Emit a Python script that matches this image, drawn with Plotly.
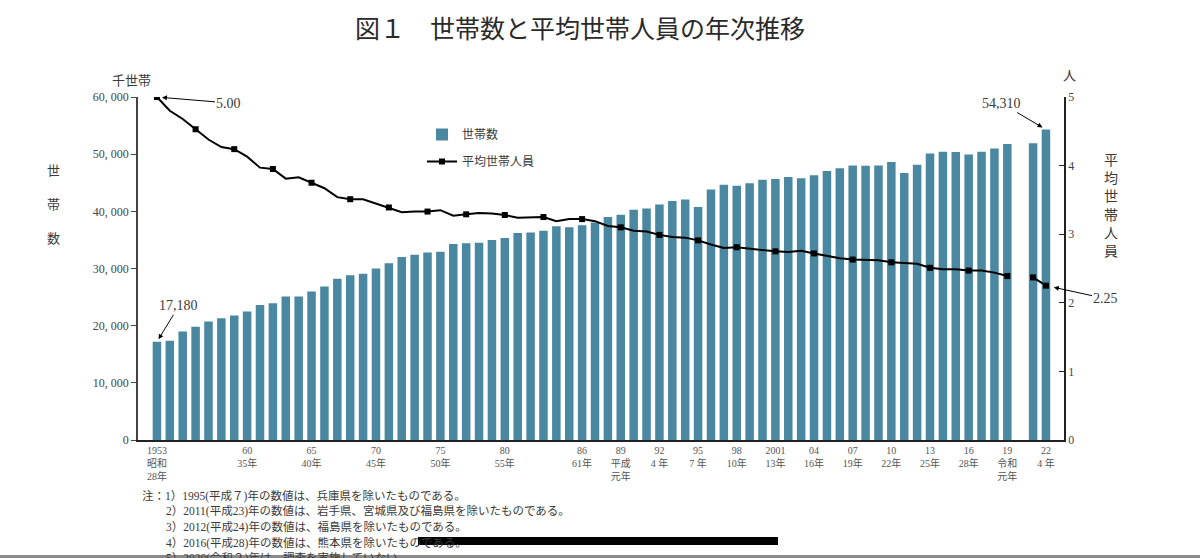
import plotly.graph_objects as go

years = list(range(1953, 2023))

households = [
    17180, 17370, 18963, 19800, 20750, 21300, 21800, 22500, 23600, 23900,   # 1953-1962
    25100, 25100, 25960, 26850, 28200, 28800, 29100, 29990, 30900, 32000,   # 1963-1972
    32400, 32800, 32950, 34300, 34400, 34500, 35000, 35338, 36200, 36300,   # 1973-1982
    36600, 37400, 37226, 37544, 38064, 39028, 39417, 40273, 40506, 41210,   # 1983-1992
    41826, 42069, 40770, 43807, 44669, 44496, 44923, 45545, 45664, 46005,   # 1993-2002
    45800, 46323, 47043, 47531, 48023, 47957, 48013, 48638, 46684, 48170,   # 2003-2012
    50112, 50431, 50361, 49945, 50425, 50991, 51785, None, 51914, 54310,    # 2013-2022
]

avg_members = [
    5.00, 4.80, 4.68, 4.53, 4.38, 4.27, 4.24, 4.13, 3.97, 3.95,   # 1953-1962
    3.81, 3.83, 3.75, 3.67, 3.54, 3.51, 3.51, 3.45, 3.39, 3.32,   # 1963-1972
    3.33, 3.33, 3.35, 3.27, 3.29, 3.31, 3.30, 3.28, 3.24, 3.24,   # 1973-1982
    3.25, 3.19, 3.22, 3.22, 3.19, 3.12, 3.10, 3.05, 3.04, 2.99,   # 1983-1992
    2.96, 2.95, 2.91, 2.85, 2.80, 2.81, 2.79, 2.76, 2.75, 2.74,   # 1993-2002
    2.76, 2.72, 2.68, 2.65, 2.63, 2.63, 2.62, 2.59, 2.58, 2.57,   # 2003-2012
    2.51, 2.49, 2.49, 2.47, 2.47, 2.44, 2.39, None, 2.37, 2.25,   # 2013-2022
]

marker_years = list(range(1953, 2020, 3)) + [2021, 2022]

tick_years = [1953, 1960, 1965, 1970, 1975, 1980, 1986, 1989, 1992, 1995,
              1998, 2001, 2004, 2007, 2010, 2013, 2016, 2019, 2022]
tick_labels = ["1953<br>昭和<br>28年", "60<br>35年", "65<br>40年", "70<br>45年",
               "75<br>50年", "80<br>55年", "86<br>61年", "89<br>平成<br>元年",
               "92<br>4 年", "95<br>7 年", "98<br>10年", "2001<br>13年",
               "04<br>16年", "07<br>19年", "10<br>22年", "13<br>25年",
               "16<br>28年", "19<br>令和<br>元年", "22<br>4 年"]

left_ticks = [0, 10000, 20000, 30000, 40000, 50000, 60000]
left_tick_labels = ["0", "10, 000", "20, 000", "30, 000", "40, 000", "50, 000", "60, 000"]
right_ticks = [0, 1, 2, 3, 4, 5]

notes = [
    "注：1）1995(平成７)年の数値は、兵庫県を除いたものである。",
    "2）2011(平成23)年の数値は、岩手県、宮城県及び福島県を除いたものである。",
    "3）2012(平成24)年の数値は、福島県を除いたものである。",
    "4）2016(平成28)年の数値は、熊本県を除いたものである。",
    "5）2020(令和２)年は、調査を実施していない。",
]

FONT = "Liberation Serif, Noto Sans CJK JP, serif"
BAR_COLOR = "#4a87a0"
TXT = "#3a3a3a"

avg_lookup = dict(zip(years, avg_members))
mk_x = marker_years
mk_y = [avg_lookup[y] for y in marker_years]

fig = go.Figure()
fig.add_trace(go.Bar(
    x=years, y=households, name="世帯数", marker_color=BAR_COLOR,
    marker_line_width=0, width=0.66, legendgroup="a", yaxis="y",
))
fig.add_trace(go.Scatter(
    x=years, y=avg_members, mode="lines", line=dict(color="black", width=2),
    connectgaps=False, showlegend=False, yaxis="y2", hoverinfo="skip",
))
fig.add_trace(go.Scatter(
    x=mk_x, y=mk_y, mode="markers",
    marker=dict(symbol="square", size=6, color="black"),
    showlegend=False, yaxis="y2",
))
fig.add_trace(go.Scatter(
    x=[None], y=[None], mode="lines+markers", name="平均世帯人員",
    line=dict(color="black", width=2),
    marker=dict(symbol="square", size=6, color="black"),
    legendgroup="b", yaxis="y2",
))

annotations = [
    dict(text="図１　世帯数と平均世帯人員の年次推移", xref="paper", yref="paper",
         x=(580 - 138) / 926, y=(440 - 27) / 343, showarrow=False,
         font=dict(size=25, color="#2a2a2a", family="Noto Sans CJK JP"),
         xanchor="center", yanchor="middle"),
    dict(text="千世帯", xref="paper", yref="paper", x=(131 - 138) / 926,
         y=(440 - 80) / 343, showarrow=False, xanchor="center", yanchor="middle",
         font=dict(size=13, color=TXT, family=FONT)),
    dict(text="人", xref="paper", yref="paper", x=(1069 - 138) / 926,
         y=(440 - 76) / 343, showarrow=False, xanchor="center", yanchor="middle",
         font=dict(size=13, color=TXT, family=FONT)),
    dict(text="世<br><br>帯<br><br>数", xref="paper", yref="paper",
         x=(53 - 138) / 926, y=(440 - 204) / 343, showarrow=False,
         xanchor="center", yanchor="middle",
         font=dict(size=13, color=TXT, family=FONT)),
    dict(text="平<br>均<br>世<br>帯<br>人<br>員", xref="paper", yref="paper",
         x=(1111 - 138) / 926, y=(440 - 206) / 343, showarrow=False,
         xanchor="center", yanchor="middle",
         font=dict(size=14, color=TXT, family=FONT)),
    dict(text="5.00", x=1953, y=5.0, xref="x", yref="y2", ax=72, ay=6,
         showarrow=True, arrowhead=2, arrowsize=1, arrowwidth=1, standoff=5,
         arrowcolor="black", font=dict(size=14, color=TXT, family=FONT)),
    dict(text="17,180", x=1953, y=17180, xref="x", yref="y", ax=22, ay=-36,
         showarrow=True, arrowhead=2, arrowsize=1, arrowwidth=1, standoff=3,
         arrowcolor="black", font=dict(size=14, color=TXT, family=FONT)),
    dict(text="54,310", x=2022, y=54310, xref="x", yref="y", ax=-44, ay=-26,
         showarrow=True, arrowhead=2, arrowsize=1, arrowwidth=1, standoff=4,
         arrowcolor="black", font=dict(size=14, color=TXT, family=FONT)),
    dict(text="2.25", x=2022, y=2.25, xref="x", yref="y2", ax=60, ay=13,
         showarrow=True, arrowhead=2, arrowsize=1, arrowwidth=1, standoff=8,
         arrowcolor="black", font=dict(size=14, color=TXT, family=FONT)),
]

note_y = [496, 511, 527, 543, 558]
for i, (txt, yy) in enumerate(zip(notes, note_y)):
    annotations.append(dict(
        text=txt, xref="paper", yref="paper",
        x=(140 - 138) / 926 if i == 0 else (164 - 138) / 926,
        y=(440 - yy) / 343, showarrow=False, xanchor="left", yanchor="middle",
        font=dict(size=11.5, color=TXT, family=FONT)))

fig.update_layout(
    width=1200, height=558,
    margin=dict(l=138, r=136, t=97, b=118, autoexpand=False),
    paper_bgcolor="white", plot_bgcolor="white",
    font=dict(family=FONT, color=TXT, size=12),
    bargap=0.3,
    showlegend=True,
    legend=dict(x=(422 - 138) / 926, y=(440 - 120) / 343, xanchor="left",
                yanchor="top", bgcolor="rgba(0,0,0,0)", tracegroupgap=8,
                font=dict(size=12, color=TXT, family=FONT)),
    xaxis=dict(range=[1951.53, 2023.4], tickvals=tick_years, ticktext=tick_labels,
               tickfont=dict(size=10, color="#555"), ticks="", showgrid=False,
               showline=True, linecolor="#222", linewidth=1.5, zeroline=False,
               tickangle=0),
    yaxis=dict(range=[0, 60000], tickvals=left_ticks, ticktext=left_tick_labels,
               tickfont=dict(size=12, color="#444"), ticks="outside", ticklen=5,
               tickcolor="#444", showgrid=False, showline=True, linecolor="#444",
               linewidth=1.5, zeroline=False),
    yaxis2=dict(range=[0, 5], tickvals=right_ticks, overlaying="y", side="right",
                tickfont=dict(size=12, color="#444"), ticks="inside", ticklen=5,
                tickcolor="#222", showgrid=False, showline=True, linecolor="#222",
                linewidth=1.5, zeroline=False),
    annotations=annotations,
    shapes=[
        dict(type="line", xref="paper", yref="paper",
             x0=(418 - 138) / 926, x1=(778 - 138) / 926,
             y0=(440 - 541) / 343, y1=(440 - 541) / 343,
             line=dict(color="black", width=8)),
        dict(type="rect", xref="paper", yref="paper",
             x0=-138 / 926, x1=(1200 - 138) / 926,
             y0=(440 - 558) / 343, y1=(440 - 555) / 343,
             line=dict(width=0), fillcolor="#8a8a8a"),
    ],
)

fig.write_html(
    "out.html",
    config={"displayModeBar": False},
    post_script="document.body.style.margin='0';document.body.style.overflow='hidden';",
)
